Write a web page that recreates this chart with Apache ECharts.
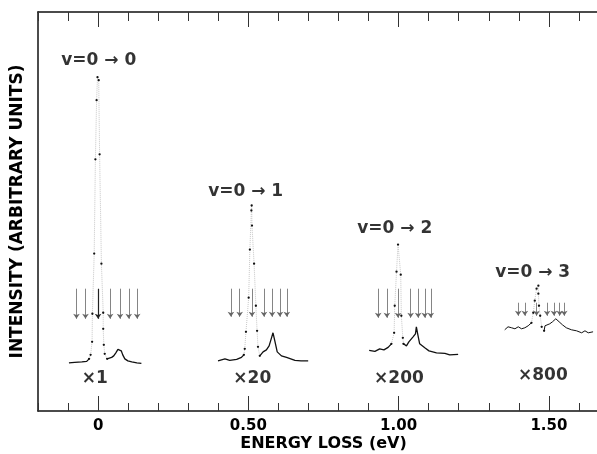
<!DOCTYPE html>
<html>
<head>
<meta charset="utf-8">
<script src="https://cdn.jsdelivr.net/npm/echarts@6/dist/echarts.min.js"></script>
<style>
html,body{margin:0;padding:0;background:#fff;}
#chart{width:597px;height:454px;}
</style>
</head>
<body>
<div id="chart"></div>
<script>
// ---- data (energy loss in eV, intensity in arbitrary units) ----
const g1Left  = [[-0.097,48],[-0.078,48.5],[-0.054,49],[-0.038,49.5],[-0.030,52]];
const g1Peak  = [[-0.030,52],[-0.025,56],[-0.020,69],[-0.019,97],[-0.013,157],[-0.009,251],[-0.005,310],[-0.002,333],[0.002,330],[0.005,256],[0.011,147],[0.017,98],[0.017,82],[0.019,66],[0.022,57],[0.030,52]];
const g1Right = [[0.030,52],[0.036,52],[0.045,53.5],[0.052,55],[0.059,58],[0.066,61.5],[0.072,63],[0.077,60],[0.082,56],[0.089,52],[0.099,50],[0.112,49],[0.129,48],[0.144,47.5]];

const g2Left  = [[0.399,50],[0.422,52],[0.438,50.5],[0.461,51.5],[0.477,53.5],[0.485,56]];
const g2Peak  = [[0.485,56],[0.488,62],[0.492,79],[0.501,113],[0.505,161],[0.510,200],[0.511,205],[0.512,185],[0.519,147],[0.525,105],[0.529,80],[0.532,64],[0.538,55]];
const g2Right = [[0.538,55],[0.549,59],[0.560,61],[0.569,65],[0.574,70],[0.582,78],[0.588,70],[0.596,59],[0.610,55],[0.627,53.5],[0.641,52],[0.655,50.5],[0.675,50],[0.699,50]];

const g3Left  = [[0.902,60.5],[0.921,59.5],[0.937,62],[0.951,61],[0.965,63.5],[0.971,65],[0.976,67]];
const g3Peak  = [[0.976,67],[0.985,78],[0.987,105],[0.993,139],[0.998,166],[1.007,136],[1.009,95],[1.014,73],[1.016,67]];
const g3Right = [[1.016,67],[1.026,65],[1.034,69],[1.040,70],[1.048,74],[1.056,77],[1.059,84],[1.064,76],[1.070,67],[1.087,63],[1.101,60],[1.126,58],[1.154,57.5],[1.170,56],[1.198,56.5]];

const g4Left  = [[1.353,81],[1.364,84],[1.376,83],[1.387,82],[1.398,84],[1.409,82],[1.420,83],[1.431,85],[1.442,88]];
const g4Peak  = [[1.442,88],[1.448,98],[1.453,110],[1.459,122],[1.465,125],[1.465,117],[1.467,105],[1.471,95],[1.476,84],[1.484,80]];
const g4Right = [[1.484,80],[1.487,85],[1.503,87],[1.512,89],[1.523,92],[1.527,93],[1.534,89],[1.545,86],[1.558,83],[1.575,81],[1.592,80],[1.609,78],[1.620,80],[1.631,78],[1.647,79]];

// arrow markers (energies) for each band
const arrowsG1 = [-0.072,-0.042,0.000,0.040,0.073,0.102,0.130];
const arrowsG2 = [0.442,0.471,0.512,0.552,0.579,0.605,0.628];
const arrowsG3 = [0.932,0.961,0.998,1.040,1.065,1.087,1.107];
const arrowsG4 = [1.398,1.420,1.459,1.494,1.517,1.536,1.551];
const arrowTop = [122,122,122,108];
const arrowTip = [92,94,93,95];

// labels
const bandLabels = ['v=0 → 0','v=0 → 1','v=0 → 2','v=0 → 3'];
const bandLabelPos = [[0.002,350],[0.491,219],[0.987,182],[1.446,138]];
const scaleLabels = ['×1','×20','×200','×800'];
const scaleLabelPos = [[-0.011,32],[0.513,32],[1.001,32],[1.480,35]];

// axis
const xMin = -0.2, xMax = 1.7;
const tickLabels = {'0':'0','0.5':'0.50','1':'1.00','1.5':'1.50'};

// ---- build ----
const groups = [
  {left:g1Left, peak:g1Peak, right:g1Right, arrows:arrowsG1},
  {left:g2Left, peak:g2Peak, right:g2Right, arrows:arrowsG2},
  {left:g3Left, peak:g3Peak, right:g3Right, arrows:arrowsG3},
  {left:g4Left, peak:g4Peak, right:g4Right, arrows:arrowsG4}
];
const FONT = "'DejaVu Sans', sans-serif";
const TXT = '#000';
const series = [];
groups.forEach((g, gi) => {
  [g.left, g.right].forEach(d => series.push({
    type:'line', data:d, showSymbol:false, xAxisIndex:0, yAxisIndex:0,
    lineStyle:{color:'#111', width: gi===3 ? 1 : 1.3}, silent:true
  }));
  series.push({
    type:'line', data:g.peak, symbol:'circle', symbolSize:2.3, showSymbol:true,
    xAxisIndex:0, yAxisIndex:0,
    itemStyle:{color:'#111'},
    lineStyle:{color:'#c8c8c8', width:1, type:'dotted'}, silent:true
  });
  series.push({
    type:'lines', coordinateSystem:'cartesian2d', xAxisIndex:0, yAxisIndex:0,
    symbol:['none','arrow'], symbolSize:5,
    lineStyle:{color:'#666', width:0.8, opacity:1},
    data: g.arrows.map((e, i) => ({
      coords:[[e, arrowTop[gi]],[e, arrowTip[gi]]],
      lineStyle: (i===2 && gi===0) ? {color:'#222', width:1.2} : undefined
    })),
    silent:true
  });
});
series.push({
  type:'scatter', xAxisIndex:0, yAxisIndex:0, symbolSize:0, silent:true,
  data: bandLabels.map((t,i)=>({name:t, value:bandLabelPos[i]})),
  label:{show:true, position:'inside', formatter:p=>p.name, color:TXT,
         fontFamily:FONT, fontWeight:'bold', fontSize:17}
});
series.push({
  type:'scatter', xAxisIndex:0, yAxisIndex:0, symbolSize:0, silent:true,
  data: scaleLabels.map((t,i)=>({name:t, value:scaleLabelPos[i]})),
  label:{show:true, position:'inside', formatter:p=>p.name, color:TXT,
         fontFamily:FONT, fontWeight:'bold', fontSize:17}
});

const PX = 300.5; // px per eV
const L0 = 38, R0 = -12;
const chart = echarts.init(document.getElementById('chart'), null, {renderer:'canvas'});
chart.setOption({
  animation:false,
  backgroundColor:'#fff',
  grid:[
    {left:L0, right:R0, top:12, bottom:43, outerBoundsMode:'none', containLabel:false},
    {left:L0 + (0 - xMin)*PX, right:R0, top:12, bottom:43, outerBoundsMode:'none', containLabel:false}
  ],
  xAxis:[
    {gridIndex:0, type:'value', position:'bottom', min:xMin, max:xMax, interval:0.1,
     axisLine:{show:true, onZero:false, lineStyle:{color:'#111', width:1.5}},
     axisTick:{show:true, inside:true, length:8, lineStyle:{color:'#333', width:1}},
     axisLabel:{show:false}, splitLine:{show:false},
     name:'ENERGY LOSS (eV)', nameLocation:'middle', nameGap:25,
     nameTextStyle:{fontFamily:FONT, fontWeight:'bold', fontSize:16, color:TXT}},
    {gridIndex:0, type:'value', position:'top', min:xMin, max:xMax, interval:0.1,
     axisLine:{show:true, onZero:false, lineStyle:{color:'#111', width:1.5}},
     axisTick:{show:true, inside:true, length:9, lineStyle:{color:'#333', width:1}},
     axisLabel:{show:false}, splitLine:{show:false}},
    {gridIndex:1, type:'value', position:'bottom', min:0, max:xMax, interval:0.5,
     axisLine:{show:false, onZero:false},
     axisTick:{show:true, inside:true, length:15, lineStyle:{color:'#333', width:1}},
     axisLabel:{show:true, margin:8, color:TXT, fontFamily:FONT, fontWeight:'bold', fontSize:15,
       formatter:v=>{const k=String(Math.round(v*10)/10); return tickLabels[k] !== undefined ? tickLabels[k] : '';}},
     splitLine:{show:false}},
    {gridIndex:1, type:'value', position:'top', min:0, max:xMax, interval:0.5,
     axisLine:{show:false, onZero:false},
     axisTick:{show:true, inside:true, length:15, lineStyle:{color:'#333', width:1}},
     axisLabel:{show:false}, splitLine:{show:false}}
  ],
  yAxis:[
    {gridIndex:0, type:'value', min:0, max:398,
     axisLine:{show:true, onZero:false, lineStyle:{color:'#111', width:1.5}},
     axisTick:{show:false}, axisLabel:{show:false}, splitLine:{show:false},
     name:'INTENSITY (ARBITRARY UNITS)', nameLocation:'middle', nameGap:12,
     nameTextStyle:{fontFamily:FONT, fontWeight:'bold', fontSize:17, color:TXT}},
    {gridIndex:1, type:'value', min:0, max:398, show:false,
     axisLine:{show:false, onZero:false}}
  ],
  series:series
});
</script>
</body>
</html>
